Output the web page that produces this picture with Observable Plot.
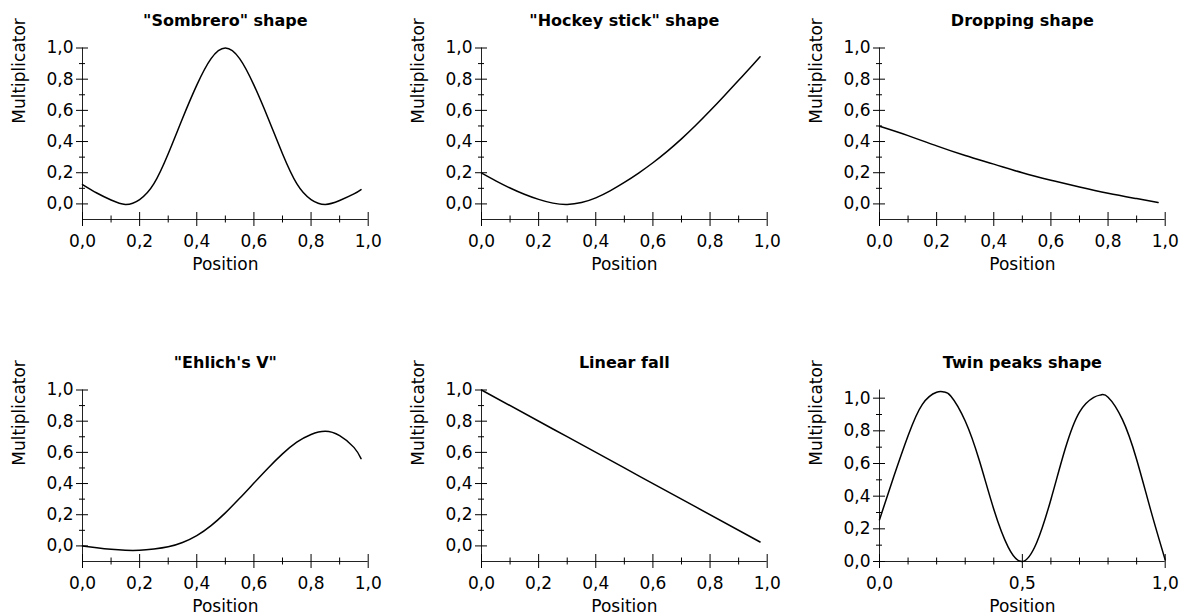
<!DOCTYPE html>
<html><head><meta charset="utf-8">
<script src="https://cdn.jsdelivr.net/npm/d3@7"></script>
<script src="https://cdn.jsdelivr.net/npm/@observablehq/plot@0.6"></script>
<style>
html,body{margin:0;padding:0;background:#fff;overflow:hidden;width:1186px;height:616px}
#root{position:relative;width:1186px;height:616px}
.panel{position:absolute}
.panel svg{overflow:visible;display:block}
</style></head><body><div id="root"></div>
<script>
// ---- data ----
const posA = [0,0.05,0.1,0.15,0.2,0.25,0.3,0.35,0.4,0.45,0.5,0.55,0.6,0.65,0.7,0.75,0.8,0.85,0.9,0.95,0.975];
const sombrero = [0.124,0.07,0.025,-0.003,0.028,0.13,0.322,0.548,0.762,0.932,1.0,0.932,0.762,0.548,0.322,0.13,0.028,-0.003,0.022,0.064,0.092];
const hockey = [0.198,0.148,0.102,0.062,0.029,0.005,-0.003,0.009,0.039,0.084,0.138,0.198,0.264,0.337,0.417,0.504,0.597,0.694,0.793,0.893,0.944];
const ehlich = [0.0,-0.012,-0.022,-0.028,-0.028,-0.02,-0.006,0.022,0.066,0.13,0.212,0.305,0.403,0.5,0.59,0.665,0.715,0.735,0.707,0.632,0.56];
const posDrop = [0,0.1,0.2,0.3,0.4,0.5,0.6,0.7,0.8,0.9,0.975];
const dropping = [0.498,0.438,0.372,0.31,0.255,0.2,0.152,0.108,0.068,0.034,0.009];
const posLinear = [0,0.25,0.5,0.75,0.975];
const linearFall = [1.0,0.75,0.5,0.25,0.025];
const posTwin = [0,0.05,0.1,0.15,0.2,0.225,0.25,0.3,0.35,0.4,0.45,0.5,0.55,0.6,0.65,0.7,0.75,0.775,0.8,0.85,0.9,0.95,1.0];
const twinPeaks = [0.256,0.52,0.77,0.962,1.036,1.038,1.012,0.86,0.615,0.32,0.09,0.0,0.115,0.38,0.69,0.915,1.005,1.02,1.006,0.87,0.625,0.31,0.01];

const titles = ['"Sombrero" shape','"Hockey stick" shape','Dropping shape','"Ehlich\'s V"','Linear fall','Twin peaks shape'];
const xLabel = "Position";
const yLabel = "Multiplicator";
const yTicks = [0,0.2,0.4,0.6,0.8,1.0];
const yTickLabels = ["0,0","0,2","0,4","0,6","0,8","1,0"];
const yMinor = [0.1,0.3,0.5,0.7,0.9];
const xTicks = [0,0.2,0.4,0.6,0.8,1.0];
const xTickLabels = ["0,0","0,2","0,4","0,6","0,8","1,0"];
const xMinor = [0.1,0.3,0.5,0.7,0.9];
const xTicksTwin = [0,0.5,1.0];
const xTickLabelsTwin = ["0,0","0,5","1,0"];
const xMinorTwin = [0.1,0.2,0.3,0.4,0.6,0.7,0.8,0.9];

// ---- layout ----
const W = 389, ML = 82, PW = 285.7, MT = 47.5, PH = 171.5, MB = 55;
const H = MT + PH + MB;
const lefts = [0, 398.7, 797];
const tops = [0, 341.7];

function fmt(vals, labels) { return d => labels[vals.indexOf(d)]; }

function panel(xs, ys, title, yDomain, xt, xtl, xm) {
  const data = xs.map((x, i) => ({x, y: ys[i]}));
  return Plot.plot({
    width: W, height: H,
    marginLeft: ML, marginRight: W - ML - PW, marginTop: MT, marginBottom: MB,
    style: {fontFamily: "'DejaVu Sans', sans-serif", fontSize: "17px", color: "#000", background: "transparent", overflow: "visible"},
    x: {domain: [0, 1]},
    y: {domain: yDomain},
    marks: [
      Plot.ruleX([0], {stroke: "#222"}),
      Plot.ruleY([yDomain[0]], {stroke: "#222"}),
      Plot.axisY(yTicks, {tickSize: 12, dx: 6, fill: "none", stroke: "#000"}),
      Plot.axisY(yMinor, {tickSize: 6, dx: 3, fill: "none", stroke: "#000"}),
      Plot.axisY(yTicks, {tickSize: 0, tickPadding: 9, tickFormat: fmt(yTicks, yTickLabels), label: null}),
      Plot.axisX(xt, {tickSize: 14, dy: -7, fill: "none", stroke: "#000"}),
      Plot.axisX(xm, {tickSize: 7, dy: -3.5, fill: "none", stroke: "#000"}),
      Plot.axisX(xt, {tickSize: 0, tickPadding: 15, tickFormat: fmt(xt, xtl), label: null}),
      Plot.line(data, {x: "x", y: "y", curve: "natural", stroke: "#000", strokeWidth: 1.5}),
      Plot.text([title], {frameAnchor: "top", dy: -22.5, lineAnchor: "bottom", fontWeight: "bold", fontSize: 16}),
      Plot.text([xLabel], {frameAnchor: "bottom", dy: 50.7, lineAnchor: "bottom"}),
      Plot.text([yLabel], {frameAnchor: "left", dx: -62.5, dy: -10, rotate: -90, lineAnchor: "middle"})
    ]
  });
}

const specs = [
  [posA, sombrero, titles[0], [-0.1, 1], xTicks, xTickLabels, xMinor],
  [posA, hockey, titles[1], [-0.1, 1], xTicks, xTickLabels, xMinor],
  [posDrop, dropping, titles[2], [-0.1, 1], xTicks, xTickLabels, xMinor],
  [posA, ehlich, titles[3], [-0.1, 1], xTicks, xTickLabels, xMinor],
  [posLinear, linearFall, titles[4], [-0.1, 1], xTicks, xTickLabels, xMinor],
  [posTwin, twinPeaks, titles[5], [0, 1.05], xTicksTwin, xTickLabelsTwin, xMinorTwin]
];

const root = document.getElementById("root");
specs.forEach((s, i) => {
  const div = document.createElement("div");
  div.className = "panel";
  div.style.left = lefts[i % 3] + "px";
  div.style.top = tops[Math.floor(i / 3)] + "px";
  div.appendChild(panel(...s));
  root.appendChild(div);
});
</script>
</body></html>
